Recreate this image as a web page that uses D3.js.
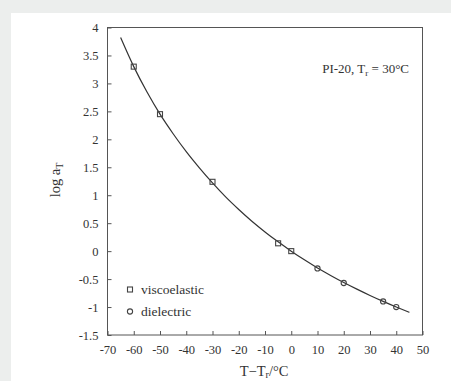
<!DOCTYPE html>
<html><head><meta charset="utf-8">
<script src="https://cdn.jsdelivr.net/npm/d3@7"></script>
<style>
html,body{margin:0;padding:0;background:#eceeed;}
svg{display:block;}
</style></head>
<body>
<script>
// Data
const xTicks = [-70,-60,-50,-40,-30,-20,-10,0,10,20,30,40,50];
const yTicks = [-1.5,-1,-0.5,0,0.5,1,1.5,2,2.5,3,3.5,4];
const viscoX = [-60,-50,-30,-5,0];
const viscoY = [3.3,2.45,1.24,0.14,0];
const dielX = [10,20,35,40];
const dielY = [-0.31,-0.57,-0.9,-1.0];
const curveX = [-65,-60,-55,-50,-45,-40,-35,-30,-25,-20,-15,-10,-5,0,5,10,15,20,25,30,35,40,45];
const curveY = [3.82,3.30,2.85,2.45,2.10,1.78,1.49,1.22,0.97,0.745,0.535,0.344,0.166,0,-0.154,-0.30,-0.434,-0.561,-0.68,-0.793,-0.899,-0.999,-1.095];

const FF = "'Liberation Serif', 'DejaVu Serif', serif";
const W=451,H=381;
const svg=d3.select("body").append("svg").attr("width",W).attr("height",H)
  .attr("font-family",FF);
svg.append("rect").attr("x",0).attr("y",0).attr("width",W).attr("height",H).attr("fill","#eceeed");
svg.append("rect").attr("x",11).attr("y",13).attr("width",W-11).attr("height",H-13).attr("fill","#fff");

const L=107.5,R=422.5,T=27.5,B=335;
const x=d3.scaleLinear().domain([-70,50]).range([L,R]);
const y=d3.scaleLinear().domain([-1.5,4]).range([B,T]);

const axCol="#555";
svg.append("rect").attr("x",L).attr("y",T).attr("width",R-L).attr("height",B-T)
  .attr("fill","none").attr("stroke",axCol).attr("stroke-width",1);

const ya=svg.append("g").attr("transform",`translate(${L},0)`)
  .call(d3.axisLeft(y).tickValues(yTicks).tickSizeInner(-4).tickSizeOuter(0).tickPadding(9).tickFormat(d=>String(d)));
ya.attr("font-family",FF).attr("font-size",12.5);
ya.select(".domain").remove();
ya.selectAll("line").attr("stroke",axCol);
ya.selectAll("text").attr("fill","#333");

const xa=svg.append("g").attr("transform",`translate(0,${B})`)
  .call(d3.axisBottom(x).tickValues(xTicks).tickSizeInner(-4).tickSizeOuter(0).tickPadding(10).tickFormat(d=>String(d)));
xa.attr("font-family",FF).attr("font-size",12.5);
xa.select(".domain").remove();
xa.selectAll("line").attr("stroke",axCol);
xa.selectAll("text").attr("fill","#333");

const cdata=curveX.map((v,i)=>[v,curveY[i]]);
svg.append("path").datum(cdata)
  .attr("d",d3.line().x(d=>x(d[0])).y(d=>y(d[1])).curve(d3.curveMonotoneX))
  .attr("fill","none").attr("stroke","#333").attr("stroke-width",1.2);

const mk="#444";
svg.selectAll(".sq").data(viscoX.map((v,i)=>[v,viscoY[i]])).enter().append("rect")
  .attr("x",d=>x(d[0])-2.5).attr("y",d=>y(d[1])-2.5).attr("width",5).attr("height",5)
  .attr("fill","none").attr("stroke",mk).attr("stroke-width",1.1);
svg.selectAll(".ci").data(dielX.map((v,i)=>[v,dielY[i]])).enter().append("circle")
  .attr("cx",d=>x(d[0])).attr("cy",d=>y(d[1])).attr("r",2.6)
  .attr("fill","none").attr("stroke",mk).attr("stroke-width",1.1);

svg.append("rect").attr("x",127.5).attr("y",287).attr("width",5).attr("height",5)
  .attr("fill","none").attr("stroke",mk).attr("stroke-width",1.1);
svg.append("text").attr("x",141).attr("y",294).attr("font-size",13.5).attr("fill","#333").text("viscoelastic");
svg.append("circle").attr("cx",130).attr("cy",311.5).attr("r",2.6)
  .attr("fill","none").attr("stroke",mk).attr("stroke-width",1.1);
svg.append("text").attr("x",141).attr("y",316).attr("font-size",13.5).attr("fill","#333").text("dielectric");

const an=svg.append("text").attr("x",409).attr("y",73).attr("text-anchor","end").attr("font-size",13).attr("fill","#333");
an.append("tspan").text("PI-20, T");
an.append("tspan").attr("font-size",9).attr("dy",3).text("r");
an.append("tspan").attr("dy",-3).text(" = 30°C");

const xt=svg.append("text").attr("x",264).attr("y",376).attr("text-anchor","middle").attr("font-size",14.5).attr("fill","#333");
xt.append("tspan").text("T−T");
xt.append("tspan").attr("font-size",10).attr("dy",2).text("r");
xt.append("tspan").attr("dy",-2).text("/°C");

const yt=svg.append("text").attr("transform","translate(60,180) rotate(-90)").attr("text-anchor","middle").attr("font-size",14.5).attr("fill","#333");
yt.append("tspan").text("log a");
yt.append("tspan").attr("font-size",10).attr("dy",3).text("T");
</script>
</body></html>
